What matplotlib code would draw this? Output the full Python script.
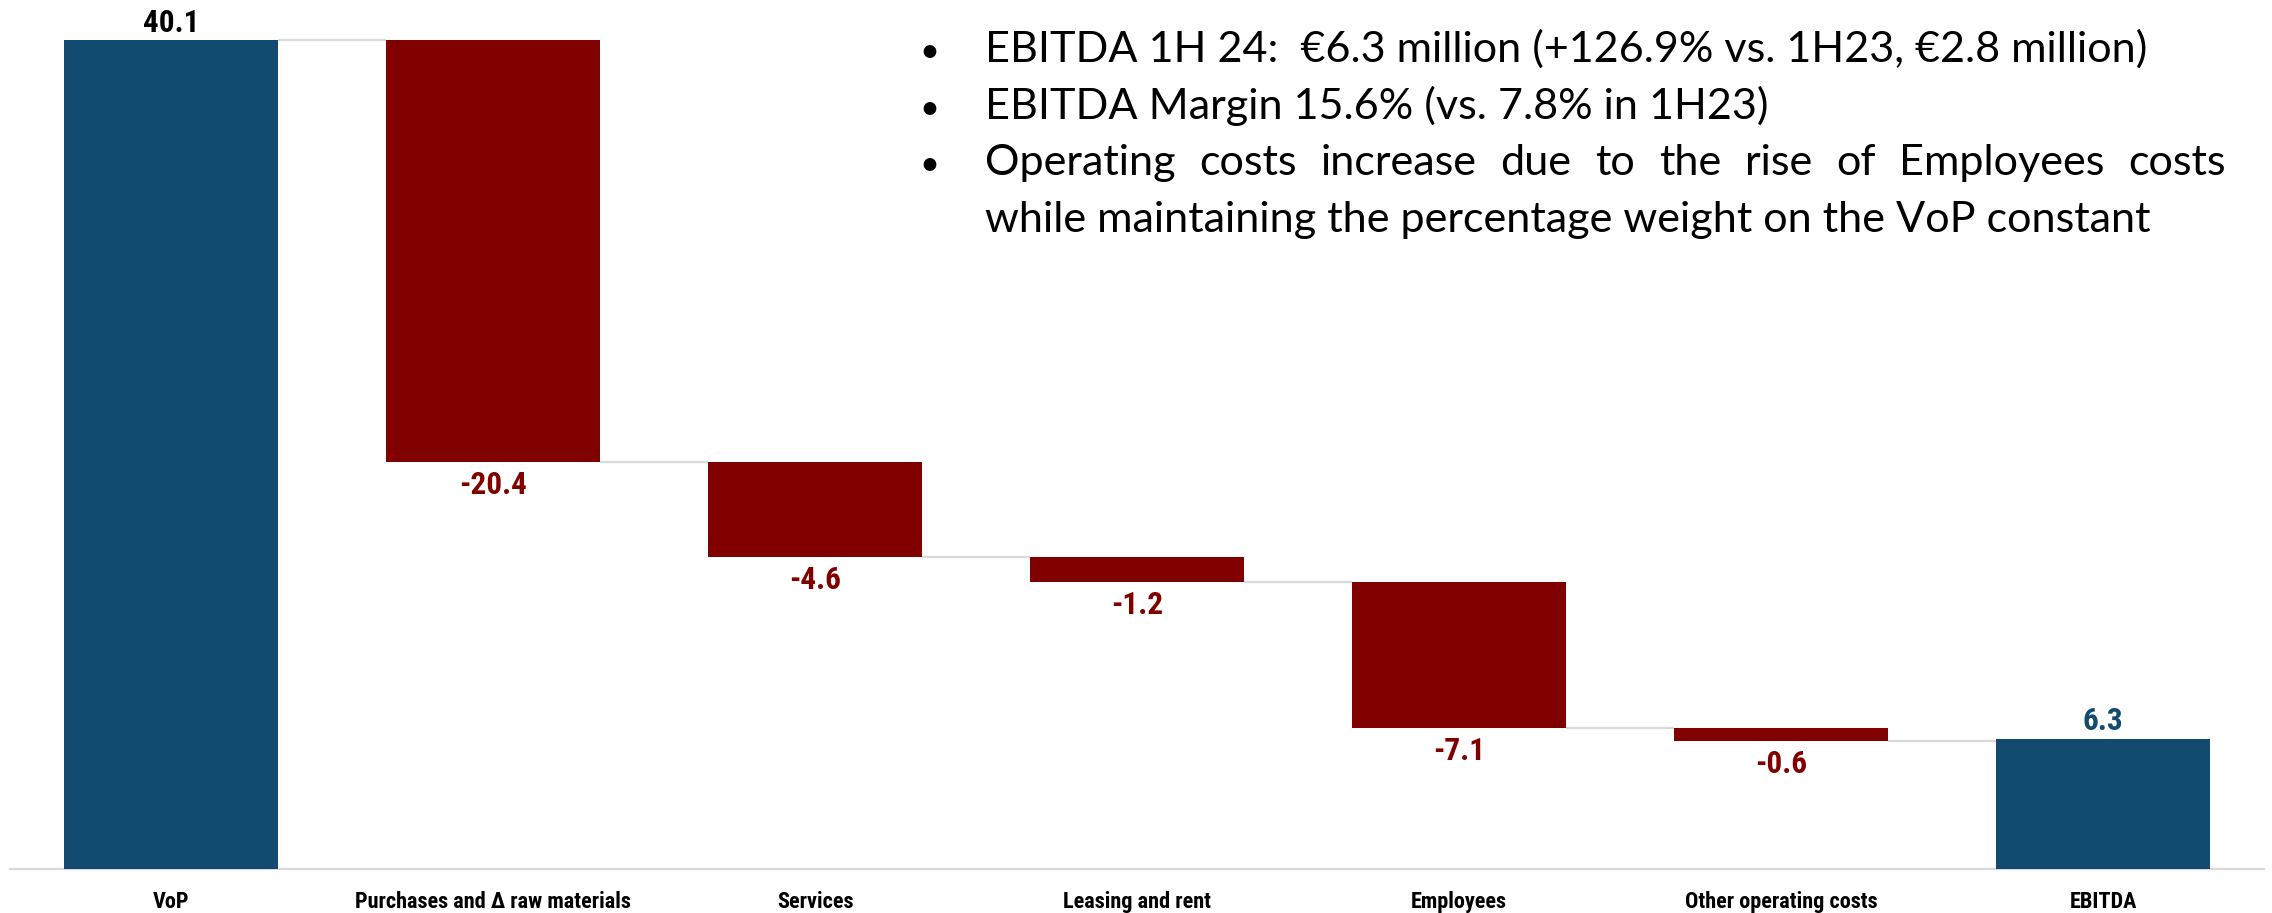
import matplotlib
matplotlib.use("Agg")
import matplotlib.pyplot as plt
from matplotlib import font_manager as fm
import numpy as np

# ---- data ----
categories = ["VoP", "Purchases and \u0394 raw materials", "Services", "Leasing and rent",
              "Employees", "Other operating costs", "EBITDA"]
values = [40.1, -20.4, -4.6, -1.2, -7.1, -0.6, 6.3]
is_total = [True, False, False, False, False, False, True]
value_labels = ["40.1", "-20.4", "-4.6", "-1.2", "-7.1", "-0.6", "6.3"]

bullet_lines = [
    "EBITDA 1H 24:  \u20ac6.3 million (+126.9% vs. 1H23, \u20ac2.8 million)",
    "EBITDA Margin 15.6% (vs. 7.8% in 1H23)",
    "Operating costs increase due to the rise of Employees costs",
    "while maintaining the percentage weight on the VoP constant",
]

BLUE = "#134a6f"
RED = "#800000"
GRID = "#d9d9d9"
BODY = ["Lato", "DejaVu Sans"]

avail = {f.name for f in fm.fontManager.ttflist}
if "Roboto Condensed" in avail:
    NARROW = ["Roboto Condensed", "Roboto", "DejaVu Sans"]
    tick_fs, val_fs = 16, 22.5
elif "Liberation Sans Narrow" in avail:
    NARROW = ["Liberation Sans Narrow", "Roboto", "DejaVu Sans"]
    tick_fs, val_fs = 16, 22
else:
    NARROW = ["Roboto", "DejaVu Sans"]
    tick_fs, val_fs = 15, 22

W, H = 2272, 913
fig = plt.figure(figsize=(W / 100, H / 100), dpi=100)

ax_left, ax_right = 10 / W, 2264 / W
ax_bottom = (H - 869) / H
ax = fig.add_axes([ax_left, ax_bottom, ax_right - ax_left, 1 - ax_bottom])

bottoms, heights, colors = [], [], []
running = 0.0
levels = []
for v, tot in zip(values, is_total):
    if tot:
        bottoms.append(0.0)
        heights.append(v)
        colors.append(BLUE)
        running = v
    else:
        bottoms.append(running + v)
        heights.append(-v)
        colors.append(RED)
        running = running + v
    levels.append(running)

x = np.arange(len(categories))
bw = 0.665
ax.bar(x, heights, bottom=bottoms, width=bw, color=colors, zorder=3)

for i in range(len(x) - 1):
    ax.hlines(levels[i], x[i] + bw / 2, x[i + 1] - bw / 2, color=GRID, lw=1.6, zorder=2)

ax.set_xlim(-0.5, len(x) - 0.5)
ax.set_ylim(0, 869 / (829 / 40.1))

for i, (v, tot, lab) in enumerate(zip(values, is_total, value_labels)):
    top = bottoms[i] + heights[i]
    if tot:
        col = "black" if i == 0 else BLUE
        ax.annotate(lab, (x[i], top), xytext=(0, 6.0), textcoords="offset points",
                    ha="center", va="baseline", fontsize=val_fs, fontweight="bold",
                    family=NARROW, color=col)
    else:
        ax.annotate(lab, (x[i], bottoms[i]), xytext=(0, -23.0), textcoords="offset points",
                    ha="center", va="baseline", fontsize=val_fs, fontweight="bold",
                    family=NARROW, color=RED)

for s in ["left", "right", "top"]:
    ax.spines[s].set_visible(False)
ax.spines["bottom"].set_color(GRID)
ax.spines["bottom"].set_linewidth(1.6)
ax.set_yticks([])
ax.set_xticks(x)
ax.set_xticklabels(categories, fontsize=tick_fs, fontweight="bold", family=NARROW)
ax.tick_params(axis="x", length=0, pad=15.5)

# bullet text
fig.canvas.draw()
renderer = fig.canvas.get_renderer()
text_left = 985
target_w1 = 2147 - 985
fs = 30
probe = fig.text(0, 0, bullet_lines[0], fontsize=fs, family=BODY)
w = probe.get_window_extent(renderer).width
probe.remove()
fs = fs * target_w1 / w

baselines = [62, 119, 175, 232]
for i, (line, yb) in enumerate(zip(bullet_lines, baselines)):
    yf = 1 - yb / H
    if i < 3:
        fig.text(929 / W, yf, "\u2022", fontsize=fs * 0.8, family=BODY,
                 ha="center", va="baseline")
    if i == 2:
        words = line.split(" ")
        right = 2226
        ws = []
        for wd in words:
            t = fig.text(0, 0, wd, fontsize=fs, family=BODY)
            ws.append(t.get_window_extent(renderer).width)
            t.remove()
        gap = (right - text_left - sum(ws)) / (len(words) - 1)
        xp = text_left
        for wd, ww in zip(words, ws):
            fig.text(xp / W, yf, wd, fontsize=fs, family=BODY, ha="left", va="baseline")
            xp += ww + gap
    else:
        fig.text(text_left / W, yf, line, fontsize=fs, family=BODY, ha="left", va="baseline")

fig.savefig("out.png", dpi=100)
